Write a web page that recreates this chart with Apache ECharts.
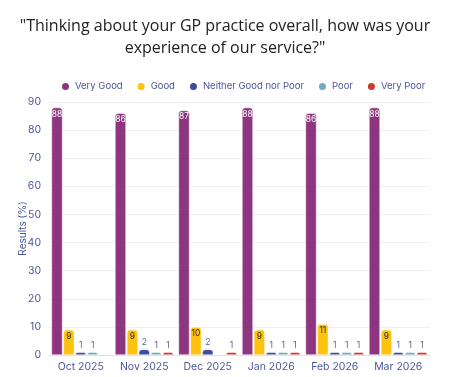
<!DOCTYPE html>
<html>
<head>
<meta charset="utf-8">
<script src="https://cdn.jsdelivr.net/npm/echarts@6/dist/echarts.min.js"></script>
<style>
  html, body { margin: 0; padding: 0; background: #fff; }
  #chart { width: 450px; height: 377px; }
</style>
</head>
<body>
<div id="chart"></div>
<script>
// months on the x axis
var months = ['Oct 2025', 'Nov 2025', 'Dec 2025', 'Jan 2026', 'Feb 2026', 'Mar 2026']
// results in percent, one array per answer
var veryGood = [88, 86, 87, 88, 86, 88]
var good = [9, 9, 10, 9, 11, 9]
var neither = [1, 2, 2, 1, 1, 1]
var poor = [1, 1, null, 1, 1, 1]
var veryPoor = [null, 1, 1, 1, 1, 1]

var axisBlue = '#4b5798'

function barSeries(name, data, color, labelPos, labelColor) {
    return {
        name: name,
        type: 'bar',
        data: data,
        barWidth: 11,
        barGap: '8%',
        itemStyle: {
            color: color,
            borderRadius: [3, 3, 0, 0],
            borderColor: '#fff',
            borderWidth: 0.5
        },
        label: {
            show: true,
            position: labelPos,
            distance: 2,
            color: labelColor,
            fontSize: 8.5,
            fontFamily: 'Inter'
        }
    }
}

var chart = echarts.init(document.getElementById('chart'))
chart.setOption({
    animation: false,
    textStyle: { fontFamily: 'Inter' },
    title: {
        text: '"Thinking about your GP practice overall, how was your\nexperience of our service?"',
        left: 'center',
        top: 10,
        textStyle: {
            fontFamily: 'Open Sans',
            fontSize: 16,
            fontWeight: 'normal',
            color: '#222',
            lineHeight: 22
        }
    },
    legend: {
        top: 76,
        left: 55,
        icon: 'circle',
        itemWidth: 9,
        itemHeight: 9,
        itemGap: 13,
        textStyle: { color: axisBlue, fontSize: 9.5 }
    },
    grid: { left: 49, right: 20, top: 102, bottom: 22 },
    xAxis: {
        type: 'category',
        data: months,
        axisTick: { show: false },
        axisLine: { lineStyle: { color: '#dde0ea' } },
        axisLabel: { color: axisBlue, fontSize: 10.5, margin: 6 }
    },
    yAxis: {
        type: 'value',
        min: 0,
        max: 90,
        interval: 10,
        name: 'Results (%)',
        nameLocation: 'middle',
        nameGap: 21,
        nameMoveOverlap: false,
        nameTextStyle: { color: axisBlue, fontSize: 10 },
        axisLabel: { color: axisBlue, fontSize: 10.5, margin: 8 },
        splitLine: { lineStyle: { color: '#eef0f5' } }
    },
    series: [
        barSeries('Very Good', veryGood, '#8e3580', 'insideTop', '#fff'),
        barSeries('Good', good, '#ffc20e', 'insideTop', '#333'),
        barSeries('Neither Good nor Poor', neither, '#3f4aa0', 'top', '#5a6590'),
        barSeries('Poor', poor, '#72a9bb', 'top', '#5a6590'),
        barSeries('Very Poor', veryPoor, '#cc3a2f', 'top', '#5a6590')
    ]
})
</script>
</body>
</html>
